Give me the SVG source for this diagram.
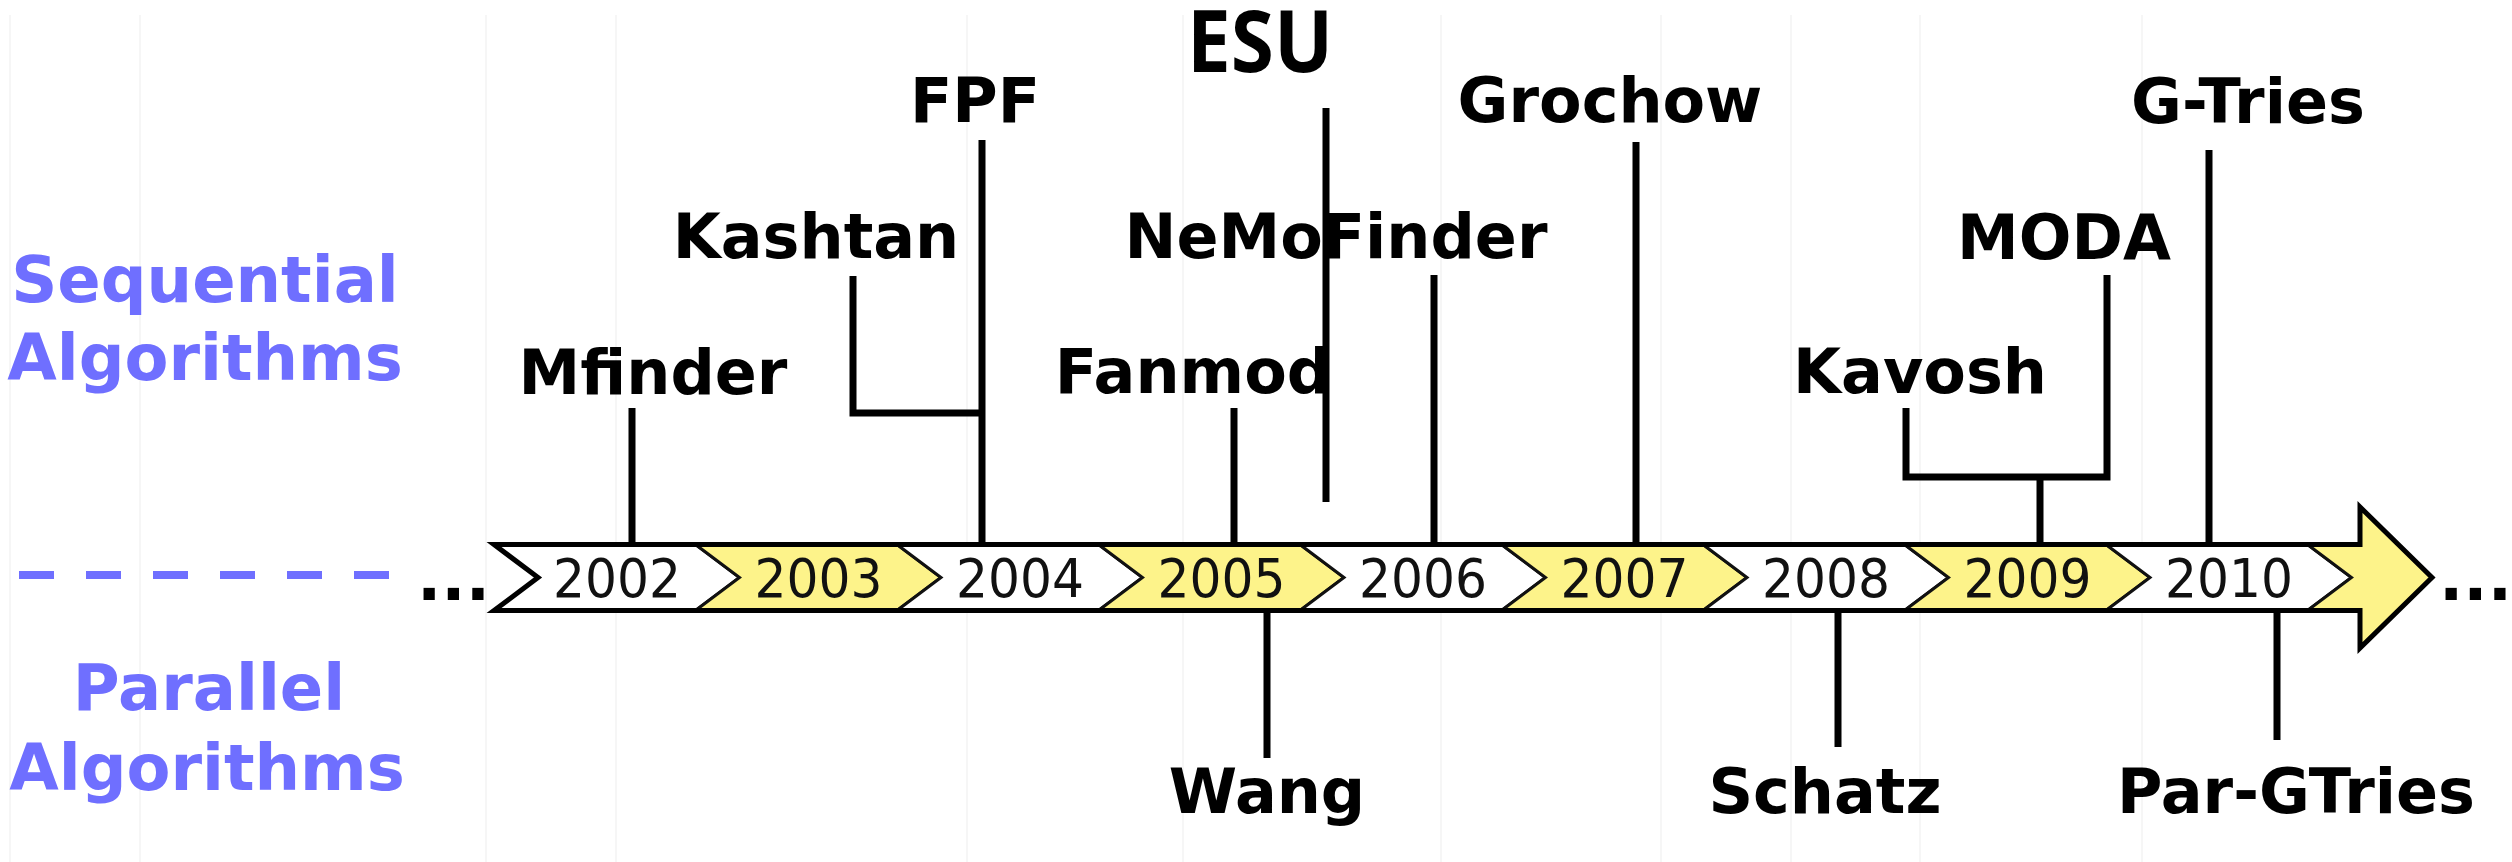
<svg xmlns="http://www.w3.org/2000/svg" width="2512" height="862" viewBox="0 0 2512 862">
  <style>
    .lbl { font-family: "DejaVu Sans", "Liberation Sans", sans-serif; font-weight: bold; font-size: 62px; fill: #000; text-anchor: middle; }
    .cat { font-family: "DejaVu Sans", "Liberation Sans", sans-serif; font-weight: bold; font-size: 64px; fill: #6f6fff; text-anchor: middle; }
    .year { font-family: "DejaVu Sans", "Liberation Sans", sans-serif; font-size: 54px; fill: #111; text-anchor: middle; }
    .esu { font-family: "Open Sans", "Noto Sans", sans-serif; font-weight: bold; font-size: 86px; fill: #000; text-anchor: middle; }
    .dots { font-family: "DejaVu Sans", sans-serif; font-weight: bold; font-size: 64px; fill: #000; }
    .link { stroke: #000; stroke-width: 7; fill: none; stroke-linejoin: miter; }
    .grid { stroke: #f6f6f6; stroke-width: 2; }
    .segW { fill: #ffffff; stroke: #111; stroke-width: 3; }
    .segY { fill: #fdf38a; stroke: #111; stroke-width: 3; }
  </style>

  <rect width="2512" height="862" fill="#ffffff"/>

  <!-- faint background rules -->
  <g id="grid">
    <line class="grid" x1="10" y1="15" x2="10" y2="862"/>
    <line class="grid" x1="140" y1="15" x2="140" y2="862"/>
    <line class="grid" x1="486" y1="15" x2="486" y2="862"/>
    <line class="grid" x1="616" y1="15" x2="616" y2="862"/>
    <line class="grid" x1="967" y1="15" x2="967" y2="862"/>
    <line class="grid" x1="1183" y1="15" x2="1183" y2="862"/>
    <line class="grid" x1="1441" y1="15" x2="1441" y2="862"/>
    <line class="grid" x1="1661" y1="15" x2="1661" y2="862"/>
    <line class="grid" x1="1791" y1="15" x2="1791" y2="862"/>
    <line class="grid" x1="1920" y1="15" x2="1920" y2="862"/>
    <line class="grid" x1="2142" y1="15" x2="2142" y2="862"/>
  </g>

  <!-- category labels and divider -->
  <g id="categories">
    <text class="cat" x="205" y="302">Sequential</text>
    <text class="cat" x="205" y="380">Algorithms</text>
    <line x1="19" y1="575" x2="390" y2="575" stroke="#6f6fff" stroke-width="8" stroke-dasharray="35 32"/>
    <text class="cat" x="209" y="710">Parallel</text>
    <text class="cat" x="207" y="790">Algorithms</text>
  </g>

  <!-- timeline band -->
  <g id="timeline">
    <polygon class="segW" points="494,544.5 695.5,544.5 739.5,577.5 695.5,610.5 494,610.5 538,577.5"/>
    <polygon class="segY" points="695.5,544.5 897,544.5 941,577.5 897,610.5 695.5,610.5 739.5,577.5"/>
    <polygon class="segW" points="897,544.5 1098.5,544.5 1142.5,577.5 1098.5,610.5 897,610.5 941,577.5"/>
    <polygon class="segY" points="1098.5,544.5 1300,544.5 1344,577.5 1300,610.5 1098.5,610.5 1142.5,577.5"/>
    <polygon class="segW" points="1300,544.5 1501.5,544.5 1545.5,577.5 1501.5,610.5 1300,610.5 1344,577.5"/>
    <polygon class="segY" points="1501.5,544.5 1703,544.5 1747,577.5 1703,610.5 1501.5,610.5 1545.5,577.5"/>
    <polygon class="segW" points="1703,544.5 1904.5,544.5 1948.5,577.5 1904.5,610.5 1703,610.5 1747,577.5"/>
    <polygon class="segY" points="1904.5,544.5 2106,544.5 2150,577.5 2106,610.5 1904.5,610.5 1948.5,577.5"/>
    <polygon class="segW" points="2106,544.5 2307.5,544.5 2351.5,577.5 2307.5,610.5 2106,610.5 2150,577.5"/>
    <polygon class="segY" points="2307.5,544.5 2360,544.5 2360,507 2432,577.5 2360,648 2360,610.5 2307.5,610.5 2351.5,577.5"/>
    <!-- outer outline -->
    <polygon points="494,544.5 2360,544.5 2360,507 2432,577.5 2360,648 2360,610.5 494,610.5 538,577.5" fill="none" stroke="#000" stroke-width="5" stroke-linejoin="miter"/>

    <text class="year" x="617" y="597" textLength="128" lengthAdjust="spacingAndGlyphs">2002</text>
    <text class="year" x="818.5" y="597" textLength="128" lengthAdjust="spacingAndGlyphs">2003</text>
    <text class="year" x="1020" y="597" textLength="128" lengthAdjust="spacingAndGlyphs">2004</text>
    <text class="year" x="1221.5" y="597" textLength="128" lengthAdjust="spacingAndGlyphs">2005</text>
    <text class="year" x="1423" y="597" textLength="128" lengthAdjust="spacingAndGlyphs">2006</text>
    <text class="year" x="1624.5" y="597" textLength="128" lengthAdjust="spacingAndGlyphs">2007</text>
    <text class="year" x="1826" y="597" textLength="128" lengthAdjust="spacingAndGlyphs">2008</text>
    <text class="year" x="2027.5" y="597" textLength="128" lengthAdjust="spacingAndGlyphs">2009</text>
    <text class="year" x="2229" y="597" textLength="128" lengthAdjust="spacingAndGlyphs">2010</text>

    <text class="dots" x="417" y="600">...</text>
    <text class="dots" x="2439" y="600">...</text>
  </g>

  <!-- connectors from algorithms to the timeline -->
  <g id="connectors">
    <line class="link" x1="632" y1="408" x2="632" y2="545"/>
    <polyline class="link" points="853,276 853,413 982,413"/>
    <line class="link" x1="982" y1="140" x2="982" y2="545"/>
    <line class="link" x1="1234" y1="408" x2="1234" y2="545"/>
    <line class="link" x1="1326" y1="108" x2="1326" y2="502" stroke-width="5"/>
    <line class="link" x1="1434" y1="275" x2="1434" y2="545"/>
    <line class="link" x1="1636" y1="142" x2="1636" y2="545"/>
    <polyline class="link" points="1906,408 1906,477 2107,477 2107,275"/>
    <line class="link" x1="2040" y1="477" x2="2040" y2="545"/>
    <line class="link" x1="2209" y1="150" x2="2209" y2="545"/>
    <line class="link" x1="1267" y1="610" x2="1267" y2="758"/>
    <line class="link" x1="1838" y1="610" x2="1838" y2="747"/>
    <line class="link" x1="2277" y1="610" x2="2277" y2="740"/>
  </g>

  <!-- sequential algorithms -->
  <g id="mfinder"><text class="lbl" x="653" y="394">Mfinder</text></g>
  <g id="kashtan"><text class="lbl" x="816" y="258">Kashtan</text></g>
  <g id="fpf"><text class="lbl" x="975" y="122">FPF</text></g>
  <g id="esu"><text class="esu" x="1260" y="72" textLength="146" lengthAdjust="spacingAndGlyphs">ESU</text></g>
  <g id="fanmod"><text class="lbl" x="1193" y="393">Fanmod</text></g>
  <g id="nemofinder"><text class="lbl" x="1336" y="258">NeMoFinder</text></g>
  <g id="grochow"><text class="lbl" x="1610" y="122">Grochow</text></g>
  <g id="kavosh"><text class="lbl" x="1920" y="393">Kavosh</text></g>
  <g id="moda"><text class="lbl" x="2064" y="259">MODA</text></g>
  <g id="gtries"><text class="lbl" x="2248" y="123">G-Tries</text></g>

  <!-- parallel algorithms -->
  <g id="wang"><text class="lbl" x="1267" y="813">Wang</text></g>
  <g id="schatz"><text class="lbl" x="1825" y="813">Schatz</text></g>
  <g id="pargtries"><text class="lbl" x="2296" y="813">Par-GTries</text></g>
</svg>
